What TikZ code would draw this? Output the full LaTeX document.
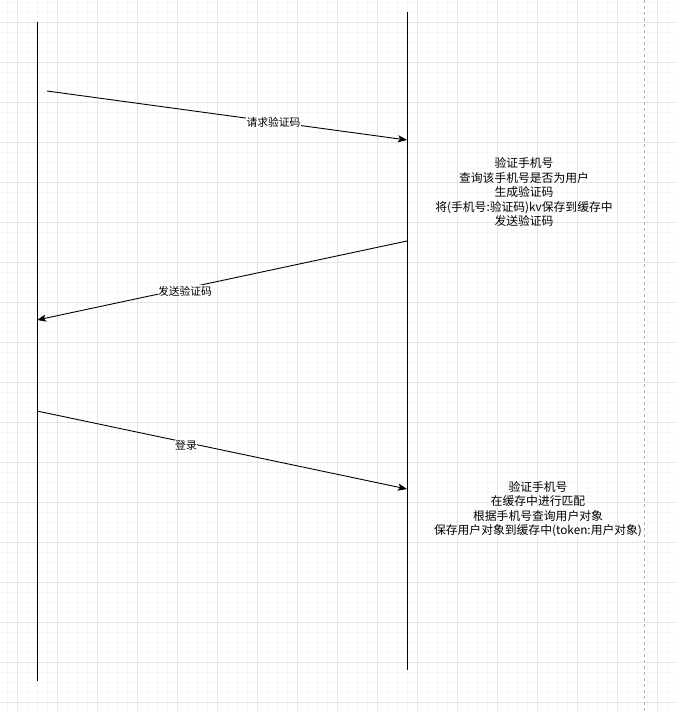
\documentclass[tikz,border=0pt]{standalone}
\usepackage{fontspec}
\setmainfont{Noto Sans CJK SC}
\usetikzlibrary{arrows.meta}
\definecolor{minorgrid}{HTML}{F6F6F6}
\definecolor{majorgrid}{HTML}{E6E6E6}
\tikzset{
  lifeline/.style={line width=1pt,black},
  msg/.style={line width=0.9pt,black,-{Stealth[length=9pt,width=7pt,inset=2pt]}},
  msglabel/.style={fill=white,inner sep=0.5pt,font=\fontsize{10.8}{12}\selectfont},
  notetext/.style={align=center,font=\fontsize{11.8}{14.5}\selectfont,inner sep=0pt}
}
\begin{document}
\begin{tikzpicture}[x=1pt,y=-1pt]
\useasboundingbox (0,0) rectangle (676,711);
\fill[white] (0,0) rectangle (676,711);
% minor grid
\foreach \gx in {7,17,...,676} \draw[minorgrid,line width=0.7pt] (\gx,0) -- (\gx,711);
\foreach \gy in {2,12,...,711} \draw[minorgrid,line width=0.7pt] (0,\gy) -- (676,\gy);
% major grid
\foreach \gx in {17,57,...,676} \draw[majorgrid,line width=0.8pt] (\gx,0) -- (\gx,711);
\foreach \gy in {22,62,...,711} \draw[majorgrid,line width=0.8pt] (0,\gy) -- (676,\gy);
% page break
\draw[gray!60,dashed,line width=0.8pt] (644,0) -- (644,711);
% lifelines
\coordinate (Ltop) at (37,22);
\coordinate (Lbot) at (37,681);
\coordinate (Rtop) at (407,12);
\coordinate (Rbot) at (407,670);
\draw[lifeline] (Ltop) -- (Lbot);
\draw[lifeline] (Rtop) -- (Rbot);
% message endpoints
\coordinate (m1s) at (47,91);
\coordinate (m1e) at (407,140);
\coordinate (m2s) at (407,241);
\coordinate (m2e) at (37,320);
\coordinate (m3s) at (37,411);
\coordinate (m3e) at (407,489);
\draw[msg] (m1s) -- (m1e);
\draw[msg] (m2s) -- (m2e);
\draw[msg] (m3s) -- (m3e);
\node[msglabel] (l1) at (273.5,122) {请求验证码};
\node[msglabel] (l2) at (185,291) {发送验证码};
\node[msglabel] (l3) at (186,445) {登录};
% notes
\node[notetext] (n1) at (524,192) {验证手机号\\查询该手机号是否为用户\\生成验证码\\将(手机号:验证码)kv保存到缓存中\\发送验证码};
\node[notetext] (n2) at (538,509) {验证手机号\\在缓存中进行匹配\\根据手机号查询用户对象\\保存用户对象到缓存中(token:用户对象)};
\end{tikzpicture}
\end{document}
